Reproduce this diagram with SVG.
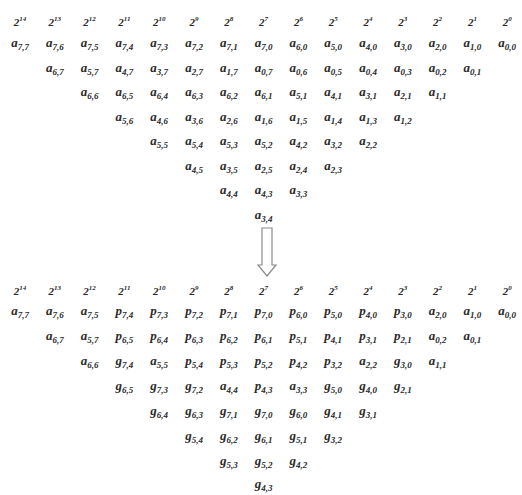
<svg xmlns="http://www.w3.org/2000/svg" width="522" height="495" viewBox="0 0 522 495">
<style>
text{font-family:"Liberation Serif","Times New Roman",serif;font-style:italic;font-weight:bold;fill:#2a2a2a;text-anchor:middle}
.t{font-size:13px}
.s{font-size:9px}
.e{font-size:11px}
.u{font-size:7px}
.arrow{fill:#ffffff;stroke:#8a8a8a;stroke-width:1.2}
</style>
<rect width="522" height="495" fill="#ffffff"/>
<g id="top-exponents">
<text class="e" x="20" y="26">2<tspan class="u" dy="-5">14</tspan></text>
<text class="e" x="54.8" y="26">2<tspan class="u" dy="-5">13</tspan></text>
<text class="e" x="89.6" y="26">2<tspan class="u" dy="-5">12</tspan></text>
<text class="e" x="124.4" y="26">2<tspan class="u" dy="-5">11</tspan></text>
<text class="e" x="159.2" y="26">2<tspan class="u" dy="-5">10</tspan></text>
<text class="e" x="194" y="26">2<tspan class="u" dy="-5">9</tspan></text>
<text class="e" x="228.8" y="26">2<tspan class="u" dy="-5">8</tspan></text>
<text class="e" x="263.6" y="26">2<tspan class="u" dy="-5">7</tspan></text>
<text class="e" x="298.4" y="26">2<tspan class="u" dy="-5">6</tspan></text>
<text class="e" x="333.2" y="26">2<tspan class="u" dy="-5">5</tspan></text>
<text class="e" x="368" y="26">2<tspan class="u" dy="-5">4</tspan></text>
<text class="e" x="402.8" y="26">2<tspan class="u" dy="-5">3</tspan></text>
<text class="e" x="437.6" y="26">2<tspan class="u" dy="-5">2</tspan></text>
<text class="e" x="472.4" y="26">2<tspan class="u" dy="-5">1</tspan></text>
<text class="e" x="507.2" y="26">2<tspan class="u" dy="-5">0</tspan></text>
</g>
<g id="top-row1">
<text class="t" x="20" y="47">a<tspan class="s" dy="3">7,7</tspan></text>
<text class="t" x="54.8" y="47">a<tspan class="s" dy="3">7,6</tspan></text>
<text class="t" x="89.6" y="47">a<tspan class="s" dy="3">7,5</tspan></text>
<text class="t" x="124.4" y="47">a<tspan class="s" dy="3">7,4</tspan></text>
<text class="t" x="159.2" y="47">a<tspan class="s" dy="3">7,3</tspan></text>
<text class="t" x="194" y="47">a<tspan class="s" dy="3">7,2</tspan></text>
<text class="t" x="228.8" y="47">a<tspan class="s" dy="3">7,1</tspan></text>
<text class="t" x="263.6" y="47">a<tspan class="s" dy="3">7,0</tspan></text>
<text class="t" x="298.4" y="47">a<tspan class="s" dy="3">6,0</tspan></text>
<text class="t" x="333.2" y="47">a<tspan class="s" dy="3">5,0</tspan></text>
<text class="t" x="368" y="47">a<tspan class="s" dy="3">4,0</tspan></text>
<text class="t" x="402.8" y="47">a<tspan class="s" dy="3">3,0</tspan></text>
<text class="t" x="437.6" y="47">a<tspan class="s" dy="3">2,0</tspan></text>
<text class="t" x="472.4" y="47">a<tspan class="s" dy="3">1,0</tspan></text>
<text class="t" x="507.2" y="47">a<tspan class="s" dy="3">0,0</tspan></text>
</g>
<g id="top-row2">
<text class="t" x="54.8" y="71.5">a<tspan class="s" dy="3">6,7</tspan></text>
<text class="t" x="89.6" y="71.5">a<tspan class="s" dy="3">5,7</tspan></text>
<text class="t" x="124.4" y="71.5">a<tspan class="s" dy="3">4,7</tspan></text>
<text class="t" x="159.2" y="71.5">a<tspan class="s" dy="3">3,7</tspan></text>
<text class="t" x="194" y="71.5">a<tspan class="s" dy="3">2,7</tspan></text>
<text class="t" x="228.8" y="71.5">a<tspan class="s" dy="3">1,7</tspan></text>
<text class="t" x="263.6" y="71.5">a<tspan class="s" dy="3">0,7</tspan></text>
<text class="t" x="298.4" y="71.5">a<tspan class="s" dy="3">0,6</tspan></text>
<text class="t" x="333.2" y="71.5">a<tspan class="s" dy="3">0,5</tspan></text>
<text class="t" x="368" y="71.5">a<tspan class="s" dy="3">0,4</tspan></text>
<text class="t" x="402.8" y="71.5">a<tspan class="s" dy="3">0,3</tspan></text>
<text class="t" x="437.6" y="71.5">a<tspan class="s" dy="3">0,2</tspan></text>
<text class="t" x="472.4" y="71.5">a<tspan class="s" dy="3">0,1</tspan></text>
</g>
<g id="top-row3">
<text class="t" x="89.6" y="96">a<tspan class="s" dy="3">6,6</tspan></text>
<text class="t" x="124.4" y="96">a<tspan class="s" dy="3">6,5</tspan></text>
<text class="t" x="159.2" y="96">a<tspan class="s" dy="3">6,4</tspan></text>
<text class="t" x="194" y="96">a<tspan class="s" dy="3">6,3</tspan></text>
<text class="t" x="228.8" y="96">a<tspan class="s" dy="3">6,2</tspan></text>
<text class="t" x="263.6" y="96">a<tspan class="s" dy="3">6,1</tspan></text>
<text class="t" x="298.4" y="96">a<tspan class="s" dy="3">5,1</tspan></text>
<text class="t" x="333.2" y="96">a<tspan class="s" dy="3">4,1</tspan></text>
<text class="t" x="368" y="96">a<tspan class="s" dy="3">3,1</tspan></text>
<text class="t" x="402.8" y="96">a<tspan class="s" dy="3">2,1</tspan></text>
<text class="t" x="437.6" y="96">a<tspan class="s" dy="3">1,1</tspan></text>
</g>
<g id="top-row4">
<text class="t" x="124.4" y="120.5">a<tspan class="s" dy="3">5,6</tspan></text>
<text class="t" x="159.2" y="120.5">a<tspan class="s" dy="3">4,6</tspan></text>
<text class="t" x="194" y="120.5">a<tspan class="s" dy="3">3,6</tspan></text>
<text class="t" x="228.8" y="120.5">a<tspan class="s" dy="3">2,6</tspan></text>
<text class="t" x="263.6" y="120.5">a<tspan class="s" dy="3">1,6</tspan></text>
<text class="t" x="298.4" y="120.5">a<tspan class="s" dy="3">1,5</tspan></text>
<text class="t" x="333.2" y="120.5">a<tspan class="s" dy="3">1,4</tspan></text>
<text class="t" x="368" y="120.5">a<tspan class="s" dy="3">1,3</tspan></text>
<text class="t" x="402.8" y="120.5">a<tspan class="s" dy="3">1,2</tspan></text>
</g>
<g id="top-row5">
<text class="t" x="159.2" y="145">a<tspan class="s" dy="3">5,5</tspan></text>
<text class="t" x="194" y="145">a<tspan class="s" dy="3">5,4</tspan></text>
<text class="t" x="228.8" y="145">a<tspan class="s" dy="3">5,3</tspan></text>
<text class="t" x="263.6" y="145">a<tspan class="s" dy="3">5,2</tspan></text>
<text class="t" x="298.4" y="145">a<tspan class="s" dy="3">4,2</tspan></text>
<text class="t" x="333.2" y="145">a<tspan class="s" dy="3">3,2</tspan></text>
<text class="t" x="368" y="145">a<tspan class="s" dy="3">2,2</tspan></text>
</g>
<g id="top-row6">
<text class="t" x="194" y="169.5">a<tspan class="s" dy="3">4,5</tspan></text>
<text class="t" x="228.8" y="169.5">a<tspan class="s" dy="3">3,5</tspan></text>
<text class="t" x="263.6" y="169.5">a<tspan class="s" dy="3">2,5</tspan></text>
<text class="t" x="298.4" y="169.5">a<tspan class="s" dy="3">2,4</tspan></text>
<text class="t" x="333.2" y="169.5">a<tspan class="s" dy="3">2,3</tspan></text>
</g>
<g id="top-row7">
<text class="t" x="228.8" y="194">a<tspan class="s" dy="3">4,4</tspan></text>
<text class="t" x="263.6" y="194">a<tspan class="s" dy="3">4,3</tspan></text>
<text class="t" x="298.4" y="194">a<tspan class="s" dy="3">3,3</tspan></text>
</g>
<g id="top-row8">
<text class="t" x="263.6" y="218.5">a<tspan class="s" dy="3">3,4</tspan></text>
</g>
<g id="connectors">
<path class="arrow" d="M262,228 L272,228 L272,265 L276,265 L267,276 L258,265 L262,265 Z"/>
</g>
<g id="bottom-exponents">
<text class="e" x="20" y="295">2<tspan class="u" dy="-5">14</tspan></text>
<text class="e" x="54.8" y="295">2<tspan class="u" dy="-5">13</tspan></text>
<text class="e" x="89.6" y="295">2<tspan class="u" dy="-5">12</tspan></text>
<text class="e" x="124.4" y="295">2<tspan class="u" dy="-5">11</tspan></text>
<text class="e" x="159.2" y="295">2<tspan class="u" dy="-5">10</tspan></text>
<text class="e" x="194" y="295">2<tspan class="u" dy="-5">9</tspan></text>
<text class="e" x="228.8" y="295">2<tspan class="u" dy="-5">8</tspan></text>
<text class="e" x="263.6" y="295">2<tspan class="u" dy="-5">7</tspan></text>
<text class="e" x="298.4" y="295">2<tspan class="u" dy="-5">6</tspan></text>
<text class="e" x="333.2" y="295">2<tspan class="u" dy="-5">5</tspan></text>
<text class="e" x="368" y="295">2<tspan class="u" dy="-5">4</tspan></text>
<text class="e" x="402.8" y="295">2<tspan class="u" dy="-5">3</tspan></text>
<text class="e" x="437.6" y="295">2<tspan class="u" dy="-5">2</tspan></text>
<text class="e" x="472.4" y="295">2<tspan class="u" dy="-5">1</tspan></text>
<text class="e" x="507.2" y="295">2<tspan class="u" dy="-5">0</tspan></text>
</g>
<g id="bottom-row1">
<text class="t" x="20" y="315">a<tspan class="s" dy="3">7,7</tspan></text>
<text class="t" x="54.8" y="315">a<tspan class="s" dy="3">7,6</tspan></text>
<text class="t" x="89.6" y="315">a<tspan class="s" dy="3">7,5</tspan></text>
<text class="t" x="124.4" y="315">p<tspan class="s" dy="3">7,4</tspan></text>
<text class="t" x="159.2" y="315">p<tspan class="s" dy="3">7,3</tspan></text>
<text class="t" x="194" y="315">p<tspan class="s" dy="3">7,2</tspan></text>
<text class="t" x="228.8" y="315">p<tspan class="s" dy="3">7,1</tspan></text>
<text class="t" x="263.6" y="315">p<tspan class="s" dy="3">7,0</tspan></text>
<text class="t" x="298.4" y="315">p<tspan class="s" dy="3">6,0</tspan></text>
<text class="t" x="333.2" y="315">p<tspan class="s" dy="3">5,0</tspan></text>
<text class="t" x="368" y="315">p<tspan class="s" dy="3">4,0</tspan></text>
<text class="t" x="402.8" y="315">p<tspan class="s" dy="3">3,0</tspan></text>
<text class="t" x="437.6" y="315">a<tspan class="s" dy="3">2,0</tspan></text>
<text class="t" x="472.4" y="315">a<tspan class="s" dy="3">1,0</tspan></text>
<text class="t" x="507.2" y="315">a<tspan class="s" dy="3">0,0</tspan></text>
</g>
<g id="bottom-row2">
<text class="t" x="54.8" y="340">a<tspan class="s" dy="3">6,7</tspan></text>
<text class="t" x="89.6" y="340">a<tspan class="s" dy="3">5,7</tspan></text>
<text class="t" x="124.4" y="340">p<tspan class="s" dy="3">6,5</tspan></text>
<text class="t" x="159.2" y="340">p<tspan class="s" dy="3">6,4</tspan></text>
<text class="t" x="194" y="340">p<tspan class="s" dy="3">6,3</tspan></text>
<text class="t" x="228.8" y="340">p<tspan class="s" dy="3">6,2</tspan></text>
<text class="t" x="263.6" y="340">p<tspan class="s" dy="3">6,1</tspan></text>
<text class="t" x="298.4" y="340">p<tspan class="s" dy="3">5,1</tspan></text>
<text class="t" x="333.2" y="340">p<tspan class="s" dy="3">4,1</tspan></text>
<text class="t" x="368" y="340">p<tspan class="s" dy="3">3,1</tspan></text>
<text class="t" x="402.8" y="340">p<tspan class="s" dy="3">2,1</tspan></text>
<text class="t" x="437.6" y="340">a<tspan class="s" dy="3">0,2</tspan></text>
<text class="t" x="472.4" y="340">a<tspan class="s" dy="3">0,1</tspan></text>
</g>
<g id="bottom-row3">
<text class="t" x="89.6" y="365">a<tspan class="s" dy="3">6,6</tspan></text>
<text class="t" x="124.4" y="365">g<tspan class="s" dy="3">7,4</tspan></text>
<text class="t" x="159.2" y="365">a<tspan class="s" dy="3">5,5</tspan></text>
<text class="t" x="194" y="365">p<tspan class="s" dy="3">5,4</tspan></text>
<text class="t" x="228.8" y="365">p<tspan class="s" dy="3">5,3</tspan></text>
<text class="t" x="263.6" y="365">p<tspan class="s" dy="3">5,2</tspan></text>
<text class="t" x="298.4" y="365">p<tspan class="s" dy="3">4,2</tspan></text>
<text class="t" x="333.2" y="365">p<tspan class="s" dy="3">3,2</tspan></text>
<text class="t" x="368" y="365">a<tspan class="s" dy="3">2,2</tspan></text>
<text class="t" x="402.8" y="365">g<tspan class="s" dy="3">3,0</tspan></text>
<text class="t" x="437.6" y="365">a<tspan class="s" dy="3">1,1</tspan></text>
</g>
<g id="bottom-row4">
<text class="t" x="124.4" y="390">g<tspan class="s" dy="3">6,5</tspan></text>
<text class="t" x="159.2" y="390">g<tspan class="s" dy="3">7,3</tspan></text>
<text class="t" x="194" y="390">g<tspan class="s" dy="3">7,2</tspan></text>
<text class="t" x="228.8" y="390">a<tspan class="s" dy="3">4,4</tspan></text>
<text class="t" x="263.6" y="390">p<tspan class="s" dy="3">4,3</tspan></text>
<text class="t" x="298.4" y="390">a<tspan class="s" dy="3">3,3</tspan></text>
<text class="t" x="333.2" y="390">g<tspan class="s" dy="3">5,0</tspan></text>
<text class="t" x="368" y="390">g<tspan class="s" dy="3">4,0</tspan></text>
<text class="t" x="402.8" y="390">g<tspan class="s" dy="3">2,1</tspan></text>
</g>
<g id="bottom-row5">
<text class="t" x="159.2" y="414.5">g<tspan class="s" dy="3">6,4</tspan></text>
<text class="t" x="194" y="414.5">g<tspan class="s" dy="3">6,3</tspan></text>
<text class="t" x="228.8" y="414.5">g<tspan class="s" dy="3">7,1</tspan></text>
<text class="t" x="263.6" y="414.5">g<tspan class="s" dy="3">7,0</tspan></text>
<text class="t" x="298.4" y="414.5">g<tspan class="s" dy="3">6,0</tspan></text>
<text class="t" x="333.2" y="414.5">g<tspan class="s" dy="3">4,1</tspan></text>
<text class="t" x="368" y="414.5">g<tspan class="s" dy="3">3,1</tspan></text>
</g>
<g id="bottom-row6">
<text class="t" x="194" y="439.5">g<tspan class="s" dy="3">5,4</tspan></text>
<text class="t" x="228.8" y="439.5">g<tspan class="s" dy="3">6,2</tspan></text>
<text class="t" x="263.6" y="439.5">g<tspan class="s" dy="3">6,1</tspan></text>
<text class="t" x="298.4" y="439.5">g<tspan class="s" dy="3">5,1</tspan></text>
<text class="t" x="333.2" y="439.5">g<tspan class="s" dy="3">3,2</tspan></text>
</g>
<g id="bottom-row7">
<text class="t" x="228.8" y="465">g<tspan class="s" dy="3">5,3</tspan></text>
<text class="t" x="263.6" y="465">g<tspan class="s" dy="3">5,2</tspan></text>
<text class="t" x="298.4" y="465">g<tspan class="s" dy="3">4,2</tspan></text>
</g>
<g id="bottom-row8">
<text class="t" x="263.6" y="488">g<tspan class="s" dy="3">4,3</tspan></text>
</g>
</svg>
